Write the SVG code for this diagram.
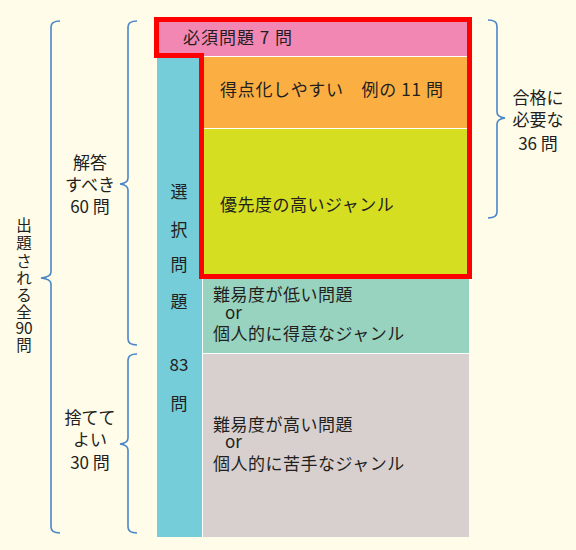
<svg xmlns="http://www.w3.org/2000/svg" width="576" height="550" viewBox="0 0 576 550">
<style>
text{font-family:"Noto Sans CJK JP","Noto Sans",sans-serif;font-size:17px;fill:#231F20}
.c{text-anchor:middle}
.v{text-anchor:middle;font-size:15.5px}
.brace{fill:none;stroke:#4A86C8;stroke-width:1.6}
.sep{stroke:#FFFFFF;stroke-width:1}
</style>
<rect width="576" height="550" fill="#FFFCEA"/>
<g id="teal-column">
<rect x="157" y="56" width="45" height="481" fill="#74CDD9"/>
<text class="c" x="179" y="198">選</text>
<text class="c" x="179" y="236">択</text>
<text class="c" x="179" y="271">問</text>
<text class="c" x="179" y="308">題</text>
<text class="c" x="179" y="371">83</text>
<text class="c" x="179" y="410">問</text>
</g>
<g id="required">
<rect x="157" y="20" width="312" height="36" fill="#F287B4"/>
<text x="183" y="44" letter-spacing="1">必須問題 7 問</text>
</g>
<g id="easy">
<rect x="202" y="56" width="267" height="72" fill="#FBAF42"/>
<text x="220" y="96" letter-spacing="0.7">得点化しやすい　例の 11 問</text>
</g>
<g id="priority">
<rect x="202" y="129" width="267" height="147" fill="#D6DE22"/>
<text x="220" y="211" letter-spacing="0.5">優先度の高いジャンル</text>
</g>
<g id="low">
<rect x="203" y="278" width="266" height="75" fill="#97D3BE"/>
<text x="213" y="301" letter-spacing="0.5">難易度が低い問題</text>
<text x="225" y="319">or</text>
<text x="213" y="340" letter-spacing="0.5">個人的に得意なジャンル</text>
</g>
<g id="high">
<rect x="203" y="354" width="266" height="183" fill="#D8D0CE"/>
<text x="213" y="431" letter-spacing="0.5">難易度が高い問題</text>
<text x="225" y="448">or</text>
<text x="213" y="470" letter-spacing="0.5">個人的に苦手なジャンル</text>
</g>
<g id="separators">
<line class="sep" x1="202" y1="56.5" x2="469" y2="56.5"/>
<line class="sep" x1="202" y1="128.5" x2="469" y2="128.5"/>
<line class="sep" x1="202" y1="353.5" x2="469" y2="353.5"/>
<line class="sep" x1="202.5" y1="278" x2="202.5" y2="537"/>
</g>
<g id="red-outline">
<polygon points="156.5,19.5 469.5,19.5 469.5,276.5 201.5,276.5 201.5,55.5 156.5,55.5" fill="none" stroke="#FF0000" stroke-width="5"/>
</g>
<g id="connectors">
<path class="brace" d="M60,21 Q51,21 51,27 L51,272 Q51,277 41,278 Q51,279 51,284 L51,527 Q51,533 60,533"/>
<path class="brace" d="M137,21 Q128,21 128,27 L128,178 Q128,183 120,184 Q128,185 128,190 L128,339 Q128,345 137,345"/>
<path class="brace" d="M137,354 Q128,354 128,360 L128,438 Q128,443 120,444 Q128,445 128,450 L128,527 Q128,533 137,533"/>
<path class="brace" d="M488,20 Q497,20 497,26 L497,112 Q497,117 505,118 Q497,119 497,124 L497,212 Q497,218 488,218"/>
</g>
<g id="label-total">
<text class="v"><tspan x="24" y="231">出</tspan><tspan x="24" y="249">題</tspan><tspan x="24" y="267">さ</tspan><tspan x="24" y="284">れ</tspan><tspan x="24" y="301">る</tspan><tspan x="24" y="318">全</tspan><tspan x="24" y="334">90</tspan><tspan x="24" y="351">問</tspan></text>
</g>
<g id="label-answer">
<text class="c" x="90" y="169">解答</text>
<text class="c" x="90" y="191">すべき</text>
<text class="c" x="90" y="213">60 問</text>
</g>
<g id="label-discard">
<text class="c" x="90" y="424">捨てて</text>
<text class="c" x="90" y="446">よい</text>
<text class="c" x="90" y="469">30 問</text>
</g>
<g id="label-pass">
<text class="c" x="538" y="104">合格に</text>
<text class="c" x="538" y="126">必要な</text>
<text class="c" x="538" y="150">36 問</text>
</g>
</svg>
